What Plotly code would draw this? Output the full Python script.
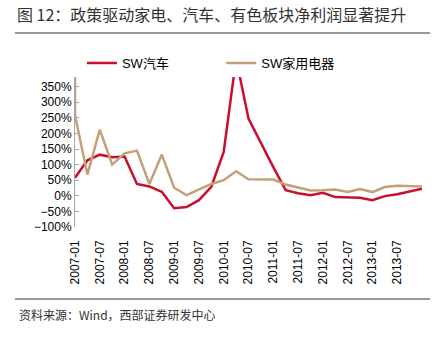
import plotly.graph_objects as go

dates = ["2007-01", "2007-04", "2007-07", "2007-10",
         "2008-01", "2008-04", "2008-07", "2008-10",
         "2009-01", "2009-04", "2009-07", "2009-10",
         "2010-01", "2010-04", "2010-07", "2010-10",
         "2011-01", "2011-04", "2011-07", "2011-10",
         "2012-01", "2012-04", "2012-07", "2012-10",
         "2013-01", "2013-04", "2013-07", "2013-10",
         "2014-01"]

tick_labels = ["2007-01", "2007-07", "2008-01", "2008-07", "2009-01", "2009-07",
               "2010-01", "2010-07", "2011-01", "2011-07", "2012-01", "2012-07",
               "2013-01", "2013-07"]

auto = [58, 114, 132, 124, 126, 38, 30, 13, -40, -36, -14, 29, 141, 440, 248,
        168, 92, 18, 8, 2, 10, -4, -4, -6, -14, -1, 5, 14, 23]

# first value of the appliance series runs off the top of the chart
appliance_start = 600
appliance = [258, 68, 212, 100, 136, 145, 38, 132, 26, 2, 20, 38, 50, 79, 53,
             53, 52, 36, 26, 17, 18, 20, 12, 22, 12, 28, 32, 32, 30]

y_min, y_max = -100, 381

RED = "#C8102E"
GOLD = "#C4A07A"
AXIS = "#A6A6A6"
FONT = "Liberation Sans, Arial, Noto Sans CJK SC"

fig = go.Figure()
fig.add_trace(go.Scatter(x=dates, y=auto, mode="lines", name="SW汽车",
                         line=dict(color=RED, width=2.5), legend="legend"))
fig.add_trace(go.Scatter(x=[dates[0]] + dates, y=[appliance_start] + appliance,
                         mode="lines", name="SW家用电器",
                         line=dict(color=GOLD, width=2.5), legend="legend2"))

zero_pos = (0 - y_min) / (y_max - y_min)

fig.update_layout(
    width=444, height=337,
    margin=dict(l=75, r=22, t=77, b=110),
    paper_bgcolor="white", plot_bgcolor="white",
    font=dict(family=FONT, size=12, color="#000000"),
    xaxis=dict(type="category", categoryorder="array", categoryarray=dates,
               range=[0, 28], tickmode="array", tickvals=tick_labels,
               ticktext=tick_labels, tickangle=-90, showline=False,
               ticks="", showgrid=False, zeroline=False,
               tickfont=dict(size=12, family=FONT), ticklabelstandoff=10),
    xaxis2=dict(type="category", categoryorder="array", categoryarray=dates,
                overlaying="x", anchor="free", position=zero_pos,
                range=[0, 28], tickmode="array", tickvals=tick_labels,
                showticklabels=False, showline=True, linecolor=AXIS,
                linewidth=1, ticks="inside", ticklen=4, tickcolor=AXIS,
                showgrid=False, zeroline=False),
    yaxis=dict(range=[y_min, y_max], dtick=50, tick0=0, ticksuffix="%",
               showline=True, linecolor=AXIS, linewidth=1, ticks="inside",
               ticklen=4, tickcolor=AXIS, showgrid=False, zeroline=False,
               tickfont=dict(size=12, family=FONT)),
    legend=dict(orientation="h", x=0.02, xanchor="left", y=1.093,
                yanchor="middle", font=dict(size=13, family=FONT),
                bgcolor="rgba(0,0,0,0)"),
    legend2=dict(orientation="h", x=0.4214, xanchor="left", y=1.093,
                 yanchor="middle", font=dict(size=13, family=FONT),
                 bgcolor="rgba(0,0,0,0)"),
    showlegend=True,
    title=dict(text="图 12：政策驱动家电、汽车、有色板块净利润显著提升",
               x=17 / 444, xanchor="left", xref="container",
               y=1 - 15 / 337, yanchor="middle", yref="container",
               font=dict(size=16, family="Noto Sans CJK SC", color="#333333")),
    annotations=[dict(text="资料来源：Wind，西部证券研发中心", xref="paper", yref="paper",
                      x=(17 - 75) / 347, y=(227 - 314) / 150, xanchor="left",
                      yanchor="middle", showarrow=False,
                      font=dict(size=12, family="Noto Sans CJK SC", color="#333333"))],
    shapes=[
        dict(type="line", xref="paper", yref="paper", x0=(15 - 75) / 347,
             x1=(430 - 75) / 347, y0=(227 - 33) / 150, y1=(227 - 33) / 150,
             line=dict(color="#333333", width=1)),
        dict(type="line", xref="paper", yref="paper", x0=(15 - 75) / 347,
             x1=(430 - 75) / 347, y0=(227 - 299) / 150, y1=(227 - 299) / 150,
             line=dict(color="#333333", width=1)),
    ],
)

fig.write_html("out.html")
